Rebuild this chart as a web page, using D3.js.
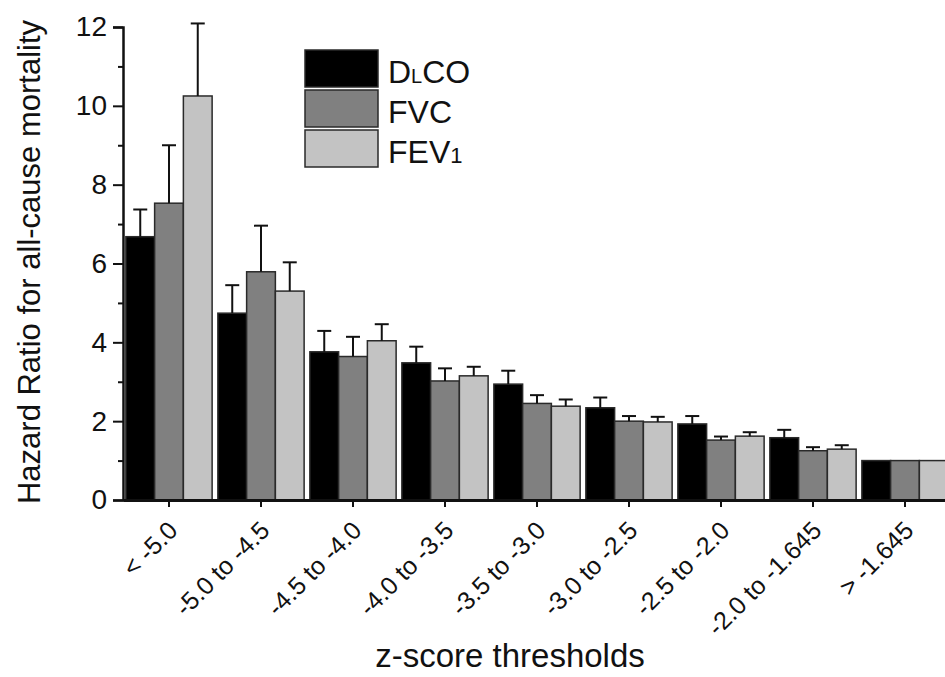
<!DOCTYPE html>
<html>
<head>
<meta charset="utf-8">
<script src="https://cdn.jsdelivr.net/npm/d3@7"></script>
<style>
  body { margin: 0; background: #fff; }
  #chart { width: 945px; height: 677px; }
  text { font-family: "Liberation Sans", Arial, sans-serif; fill: #111; }
</style>
</head>
<body>
<div id="chart"></div>
<script>
const categories = ["< -5.0", "-5.0 to -4.5", "-4.5 to -4.0", "-4.0 to -3.5", "-3.5 to -3.0",
    "-3.0 to -2.5", "-2.5 to -2.0", "-2.0 to -1.645", "> -1.645"];
const seriesNames = ["DLCO", "FVC", "FEV1"];
const dlco = [6.68, 4.74, 3.76, 3.48, 2.94, 2.34, 1.93, 1.58, 1.0];
const dlcoUpper = [7.37, 5.45, 4.29, 3.89, 3.28, 2.60, 2.13, 1.78, null];
const fvc = [7.53, 5.79, 3.64, 3.02, 2.45, 2.00, 1.52, 1.25, 1.0];
const fvcUpper = [9.0, 6.96, 4.14, 3.34, 2.66, 2.13, 1.61, 1.34, null];
const fev1 = [10.25, 5.30, 4.04, 3.15, 2.38, 1.98, 1.62, 1.29, 1.0];
const fev1Upper = [12.09, 6.03, 4.46, 3.38, 2.55, 2.11, 1.72, 1.39, null];
const yTicks = [0, 2, 4, 6, 8, 10, 12];
const yMinorTicks = [1, 3, 5, 7, 9, 11];

document.addEventListener("DOMContentLoaded", () => {
    const width = 945, height = 677;
    const colors = ["#000000", "#808080", "#c3c3c3"];

    const svg = d3.select("#chart").append("svg")
        .attr("width", width)
        .attr("height", height);

    const values = [dlco, fvc, fev1];
    const uppers = [dlcoUpper, fvcUpper, fev1Upper];
    const data = categories.map((c, i) => ({
        category: c,
        bars: seriesNames.map((s, j) => ({ series: s, value: values[j][i], upper: uppers[j][i] }))
    }));

    // Scales
    const x = d3.scaleBand().domain(categories).range([123, 951]).padding(0);
    const xInner = d3.scaleBand().domain(seriesNames).range([0, x.bandwidth()])
        .paddingOuter(0.1).paddingInner(0);
    const y = d3.scaleLinear().domain([0, 12]).range([500, 27]);

    // Bars
    const groups = svg.selectAll(".group")
        .data(data)
        .enter()
        .append("g")
        .attr("transform", (d) => `translate(${x(d.category)},0)`);

    groups.selectAll("rect")
        .data((d) => d.bars)
        .enter()
        .append("rect")
        .attr("x", (d) => xInner(d.series))
        .attr("y", (d) => y(d.value))
        .attr("width", xInner.bandwidth())
        .attr("height", (d) => y(0) - y(d.value))
        .attr("fill", (d, i) => colors[i])
        .attr("stroke", "#2a2a2a")
        .attr("stroke-width", 1.5);

    // Error bars (upper only)
    const errs = groups.selectAll(".err")
        .data((d) => d.bars.filter((b) => b.upper !== null))
        .enter()
        .append("g")
        .attr("class", "err");

    errs.append("line")
        .attr("x1", (d) => xInner(d.series) + xInner.bandwidth() / 2)
        .attr("x2", (d) => xInner(d.series) + xInner.bandwidth() / 2)
        .attr("y1", (d) => y(d.value))
        .attr("y2", (d) => y(d.upper))
        .attr("stroke", "#111")
        .attr("stroke-width", 2);

    errs.append("line")
        .attr("x1", (d) => xInner(d.series) + xInner.bandwidth() / 2 - 7)
        .attr("x2", (d) => xInner(d.series) + xInner.bandwidth() / 2 + 7)
        .attr("y1", (d) => y(d.upper))
        .attr("y2", (d) => y(d.upper))
        .attr("stroke", "#111")
        .attr("stroke-width", 2);

    // Y axis
    const yAxis = svg.append("g")
        .attr("transform", "translate(123,0)")
        .call(d3.axisLeft(y).tickValues(yTicks).tickSize(10).tickPadding(6).tickFormat(d3.format("d")));
    yAxis.select(".domain").attr("stroke", "#111").attr("stroke-width", 2.5);
    yAxis.selectAll(".tick line").attr("stroke", "#111").attr("stroke-width", 2);
    yAxis.selectAll("text")
        .style("font-family", "Liberation Sans, Arial, sans-serif")
        .style("font-size", "28px")
        .attr("fill", "#111");

    svg.append("g")
        .attr("transform", "translate(123,0)")
        .call(d3.axisLeft(y).tickValues(yMinorTicks).tickSize(5).tickFormat(""))
        .call((g) => g.select(".domain").remove())
        .selectAll(".tick line").attr("stroke", "#111").attr("stroke-width", 2);

    // X axis
    const xAxis = svg.append("g")
        .attr("transform", "translate(0,500)")
        .call(d3.axisBottom(x).tickSize(7).tickSizeOuter(0));
    xAxis.select(".domain").attr("stroke", "#111").attr("stroke-width", 3);
    xAxis.selectAll(".tick line").attr("stroke", "#111").attr("stroke-width", 2);
    xAxis.selectAll("text")
        .style("font-family", "Liberation Sans, Arial, sans-serif")
        .style("font-size", "25px")
        .attr("fill", "#111")
        .style("text-anchor", "end")
        .attr("x", 0)
        .attr("y", 0)
        .attr("dy", 0)
        .attr("transform", "translate(10,32) rotate(-45)");

    // X-axis label
    svg.append("text")
        .attr("x", 510)
        .attr("y", 667)
        .attr("text-anchor", "middle")
        .style("font-size", "33px")
        .text("z-score thresholds");

    // Y-axis label
    svg.append("text")
        .attr("transform", "rotate(-90)")
        .attr("x", -262)
        .attr("y", 40)
        .attr("text-anchor", "middle")
        .style("font-size", "31px")
        .text("Hazard Ratio for all-cause mortality");

    // Legend
    const legend = svg.append("g").attr("transform", "translate(305,50)");
    const legendItems = legend.selectAll(".item")
        .data(seriesNames)
        .enter()
        .append("g")
        .attr("transform", (d, i) => `translate(0,${i * 40})`);

    legendItems.append("rect")
        .attr("width", 73)
        .attr("height", 37)
        .attr("fill", (d, i) => colors[i])
        .attr("stroke", "#2a2a2a")
        .attr("stroke-width", 1.5);

    const labels = legendItems.append("text")
        .attr("x", 83)
        .attr("y", 33)
        .style("font-size", "32px");
    labels.each(function (d) {
        const t = d3.select(this);
        if (d === "DLCO") {
            t.append("tspan").text("D");
            t.append("tspan").style("font-size", "20px").text("L");
            t.append("tspan").text("CO");
        } else if (d === "FEV1") {
            t.append("tspan").text("FEV");
            t.append("tspan").style("font-size", "22px").text("1");
        } else {
            t.text(d);
        }
    });
});
</script>
</body>
</html>
